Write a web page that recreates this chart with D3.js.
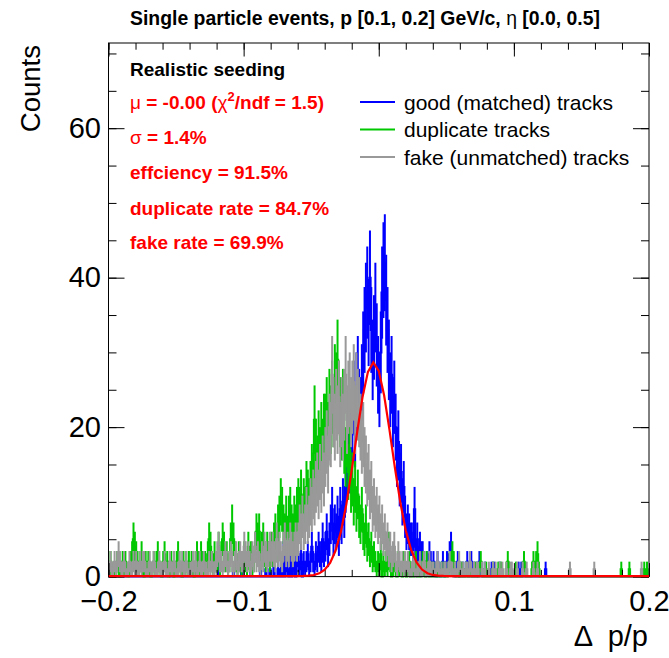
<!DOCTYPE html>
<html>
<head>
<meta charset="utf-8">
<script src="https://cdn.jsdelivr.net/npm/d3@7"></script>
<style>
  body { margin: 0; background: #fff; }
  svg { display: block; font-family: "Liberation Sans", Arial, Helvetica, sans-serif; }
</style>
</head>
<body>
<div id="chart"></div>
<script>
const width = 669, height = 658

// histogram binning
const xMin = -0.2, xMax = 0.2, nBins = 400
const yMax = 71.4

const xTicks = [-0.2, -0.1, 0, 0.1, 0.2]
const xTickLabels = ["\u22120.2", "\u22120.1", "0", "0.1", "0.2"]
const yTicks = [0, 20, 40, 60]
const yTickLabels = ["0", "20", "40", "60"]

// gaussian fit: amplitude, mean, sigma
const fitParams = [28.6, -0.0039, 0.0136]

// counts per bin, 20 bins per row
const goodCounts = [
  0,0,0,0,0,0,0,0,0,0,0,0,0,0,0,0,0,0,0,0,
  0,0,0,0,0,0,0,0,0,0,0,0,0,0,0,0,0,0,0,0,
  0,0,0,0,1,0,0,0,0,0,0,0,0,0,0,0,0,0,0,0,
  0,0,0,0,0,0,0,0,0,0,0,0,0,0,0,0,0,0,0,0,
  0,1,0,0,0,0,0,0,0,0,0,0,1,0,0,0,0,0,1,0,
  0,0,0,0,0,1,0,0,0,0,0,0,2,0,0,0,1,0,0,1,
  0,0,2,0,0,1,0,1,0,3,0,2,1,0,2,0,1,2,0,3,
  2,1,3,0,2,1,2,3,1,2,4,2,1,3,2,4,3,2,5,3,
  4,6,3,5,7,9,5,7,6,8,5,9,7,10,8,12,14,17,15,19,
  21,24,19,25,27,23,22,26,30,33,36,38,34,40,33,29,32,36,31,27,
  25,30,38,41,42,37,33,29,25,27,22,24,20,16,18,13,14,10,12,8,
  6,7,6,5,5,4,9,3,5,2,4,3,3,2,1,2,1,3,2,1,
  2,1,0,2,1,0,1,2,0,1,2,1,3,4,2,1,0,1,2,0,
  1,0,1,0,1,2,0,1,2,0,1,0,1,0,2,1,0,0,1,0,
  0,0,0,1,0,1,0,0,0,1,0,0,0,0,0,0,0,0,0,0,
  0,0,0,1,0,1,0,0,0,0,0,0,0,0,0,0,0,0,0,0,
  0,0,0,1,0,0,0,0,0,0,0,0,0,0,0,0,0,0,0,0,
  0,0,0,0,0,0,0,0,0,0,0,0,0,0,0,0,0,0,0,0,
  0,0,0,0,0,0,0,0,0,0,0,0,0,0,0,0,0,0,0,0,
  0,0,0,0,0,0,0,0,0,0,0,0,0,0,0,0,0,0,0,0
]

const duplicateCounts = [
  1,2,0,1,0,1,2,1,0,1,2,1,2,1,0,1,2,3,5,4,
  3,2,1,2,3,1,0,2,1,2,1,0,1,2,1,2,3,2,1,0,
  2,3,1,2,0,1,2,1,0,1,2,3,2,1,0,2,1,2,1,2,
  1,2,1,0,2,3,2,1,3,2,1,2,1,3,5,4,2,1,3,2,
  2,4,1,3,5,4,2,3,1,2,5,7,5,3,2,1,3,2,1,2,
  3,2,1,4,2,3,1,2,4,6,5,6,3,4,5,3,2,4,3,2,
  4,3,5,6,4,7,8,10,9,7,6,8,5,8,9,7,6,8,7,9,
  10,9,11,8,10,9,12,11,10,12,14,13,21,17,15,18,16,19,17,20,
  20,22,19,23,21,24,22,26,25,29,24,22,20,23,18,16,19,14,17,12,
  13,10,12,9,11,8,7,9,6,5,7,4,5,3,4,2,3,2,1,2,
  1,3,0,2,1,2,1,4,2,0,1,2,1,0,2,1,1,0,2,1,
  0,1,2,0,1,0,1,2,0,1,0,1,2,1,0,2,1,0,1,0,
  1,0,0,1,0,0,1,0,1,0,0,1,2,2,3,2,1,0,0,1,
  0,1,0,0,1,0,0,1,0,0,0,1,0,0,1,2,1,0,0,1,
  0,0,0,0,1,0,0,0,1,0,1,0,0,0,1,2,1,0,0,0,
  0,1,0,0,0,0,1,2,1,0,0,0,0,1,2,1,2,3,1,0,
  0,0,0,0,0,0,0,0,0,0,0,0,0,0,0,0,0,0,0,0,
  0,0,0,0,0,0,0,0,0,0,0,0,0,0,0,0,0,0,0,0,
  0,0,0,0,0,0,0,0,0,0,0,0,0,0,0,0,0,0,0,1,
  0,0,0,0,0,1,0,0,0,0,0,0,0,0,0,0,1,0,1,0
]

const fakeCounts = [
  1,2,1,1,2,1,2,3,2,1,1,2,1,0,1,2,1,1,2,1,
  2,1,1,2,1,2,2,1,0,1,2,1,1,2,1,0,1,2,1,1,
  1,2,1,0,1,2,1,1,2,1,0,1,2,1,2,1,1,2,1,0,
  1,1,2,1,2,0,1,2,1,1,2,1,1,0,2,1,2,1,1,2,
  3,4,2,2,1,2,3,2,1,2,3,2,1,2,3,1,2,3,2,2,
  4,3,2,3,2,1,3,2,4,2,3,2,1,3,2,4,3,2,3,4,
  3,4,3,2,5,3,4,3,2,4,5,3,4,3,5,4,3,4,5,4,
  5,7,6,8,6,7,9,7,8,10,9,11,10,12,13,11,14,12,15,13,
  16,18,15,20,19,27,22,20,23,21,24,19,22,20,23,27,21,24,25,22,
  24,26,21,25,23,22,20,18,19,16,15,13,14,11,12,9,10,8,9,7,
  8,6,7,5,6,4,5,3,4,2,3,4,2,1,3,2,1,2,1,2,
  1,2,1,0,1,2,1,0,1,1,2,0,1,2,1,0,1,2,0,1,
  1,0,1,2,1,0,1,0,1,1,0,1,2,1,1,0,1,0,1,2,
  1,0,1,0,1,1,0,2,1,0,1,0,1,1,0,0,1,0,1,0,
  0,1,0,0,1,0,1,0,0,1,0,1,0,0,1,0,0,1,1,0,
  0,0,1,0,0,0,1,0,0,1,0,0,0,0,1,0,0,1,0,0,
  0,0,0,0,0,0,0,0,0,0,0,0,0,0,0,0,0,0,0,0,
  0,1,0,0,0,0,0,0,0,0,0,0,0,0,0,0,0,0,0,1,
  0,0,0,0,0,0,0,0,0,0,0,0,0,0,0,0,0,0,0,0,
  0,0,0,0,0,0,0,0,0,0,0,0,0,0,1,0,0,0,0,0
]

const seriesNames = ["good (matched) tracks", "duplicate tracks", "fake (unmatched) tracks"]
const seriesColors = ["#0000ff", "#00c800", "#999999"]

const frame = { left: 108.5, right: 649, top: 43, bottom: 576.6 }

const svg = d3.select("#chart").append("svg")
    .attr("width", width)
    .attr("height", height)
    .attr("viewBox", [0, 0, width, height])

const x = d3.scaleLinear().domain([xMin, xMax]).range([frame.left, frame.right])
const y = d3.scaleLinear().domain([0, yMax]).range([frame.bottom, frame.top])
const binWidth = (xMax - xMin) / nBins

// clip a little below the frame so lines at zero keep their full width
svg.append("clipPath").attr("id", "clip")
  .append("rect")
    .attr("x", frame.left).attr("y", frame.top)
    .attr("width", frame.right - frame.left).attr("height", frame.bottom - frame.top + 1.5)

const plot = svg.append("g").attr("clip-path", "url(#clip)")

const stepLine = d3.line()
    .x(d => x(d[0]))
    .y(d => y(d[1]))
    .curve(d3.curveStepAfter)

function drawHist(counts, color) {
    let pts = counts.map((c, i) => [xMin + i * binWidth, c])
    pts.push([xMax, counts[counts.length - 1]])
    plot.append("path")
        .attr("d", stepLine(pts))
        .attr("fill", "none")
        .attr("stroke", color)
        .attr("stroke-width", 2)
    // error bars
    plot.append("g")
      .selectAll("line")
      .data(counts.map((c, i) => ({c: c, i: i})).filter(d => d.c > 0))
      .join("line")
        .attr("x1", d => x(xMin + (d.i + 0.5) * binWidth))
        .attr("x2", d => x(xMin + (d.i + 0.5) * binWidth))
        .attr("y1", d => y(d.c - Math.sqrt(d.c)))
        .attr("y2", d => y(d.c + Math.sqrt(d.c)))
        .attr("stroke", color)
        .attr("stroke-width", 2)
}

drawHist(goodCounts, seriesColors[0])
drawHist(duplicateCounts, seriesColors[1])
drawHist(fakeCounts, seriesColors[2])

// axes, ticks pointing inwards
const tickFont = 29
function styleAxis(g) {
    g.select(".domain").remove()
    g.selectAll(".tick line").attr("stroke", "#000").attr("stroke-width", 1)
    g.selectAll(".tick text").attr("font-size", tickFont).attr("fill", "#000")
        .attr("font-family", "Liberation Sans, Arial, sans-serif")
}

svg.append("g").attr("transform", `translate(0,${frame.bottom})`)
    .call(d3.axisBottom(x).tickValues(x.ticks(20)).tickSize(-6.7).tickFormat(""))
    .call(styleAxis)
svg.append("g").attr("transform", `translate(0,${frame.bottom})`)
    .call(d3.axisBottom(x).tickValues(xTicks).tickSize(-13.5).tickPadding(13.5)
        .tickFormat((d, i) => xTickLabels[i]))
    .call(styleAxis)
svg.append("g").attr("transform", `translate(0,${frame.top})`)
    .call(d3.axisTop(x).tickValues(x.ticks(20)).tickSize(-6.7).tickFormat(""))
    .call(styleAxis)
svg.append("g").attr("transform", `translate(0,${frame.top})`)
    .call(d3.axisTop(x).tickValues(xTicks).tickSize(-13.5).tickFormat(""))
    .call(styleAxis)

svg.append("g").attr("transform", `translate(${frame.left},0)`)
    .call(d3.axisLeft(y).tickValues(y.ticks(14)).tickSize(-8).tickFormat(""))
    .call(styleAxis)
svg.append("g").attr("transform", `translate(${frame.left},0)`)
    .call(d3.axisLeft(y).tickValues(yTicks).tickSize(-16).tickPadding(7.5)
        .tickFormat((d, i) => yTickLabels[i]))
    .call(styleAxis)
svg.append("g").attr("transform", `translate(${frame.right},0)`)
    .call(d3.axisRight(y).tickValues(y.ticks(14)).tickSize(-8).tickFormat(""))
    .call(styleAxis)
svg.append("g").attr("transform", `translate(${frame.right},0)`)
    .call(d3.axisRight(y).tickValues(yTicks).tickSize(-16).tickFormat(""))
    .call(styleAxis)

svg.append("rect")
    .attr("x", frame.left).attr("y", frame.top)
    .attr("width", frame.right - frame.left).attr("height", frame.bottom - frame.top)
    .attr("fill", "none").attr("stroke", "#000").attr("stroke-width", 1)

// fit curve on top of everything, 100 segments like root
const fitPts = d3.range(0, 101).map(k => {
    const v = xMin + k * (xMax - xMin) / 100
    const z = (v - fitParams[1]) / fitParams[2]
    return [v, fitParams[0] * Math.exp(-0.5 * z * z)]
})
svg.append("g").attr("clip-path", "url(#clip)")
  .append("path")
    .attr("d", d3.line().x(d => x(d[0])).y(d => y(d[1]) - 0.5)(fitPts))
    .attr("fill", "none")
    .attr("stroke", "#ff0000")
    .attr("stroke-width", 2.2)

// axis titles
svg.append("text")
    .attr("transform", "translate(40,45) rotate(-90)")
    .attr("text-anchor", "end")
    .attr("font-size", 27.5)
    .text("Counts")
svg.append("text")
    .attr("x", 648).attr("y", 646)
    .attr("text-anchor", "end")
    .attr("font-size", 29)
    .attr("xml:space", "preserve")
    .text("\u0394  p/p")

// title
const title = svg.append("text")
    .attr("x", 130).attr("y", 25)
    .attr("font-size", 19.4).attr("font-weight", "bold")
title.append("tspan").text("Single particle events, p [0.1, 0.2] GeV/c, ")
title.append("tspan").attr("font-weight", "normal").text("\u03b7")
title.append("tspan").text(" [0.0, 0.5]")

// stats text
svg.append("text")
    .attr("x", 130).attr("y", 76)
    .attr("font-size", 19).attr("font-weight", "bold")
    .text("Realistic seeding")

const statY = [109, 144, 179, 215, 249]
const red = "#ff0000"
const t0 = svg.append("text").attr("x", 130).attr("y", statY[0])
    .attr("font-size", 19).attr("font-weight", "bold").attr("fill", red)
t0.append("tspan").attr("font-weight", "normal").text("\u03bc")
t0.append("tspan").text(" = -0.00 (")
t0.append("tspan").attr("font-weight", "normal").text("\u03c7")
t0.append("tspan").attr("font-size", 13).attr("dy", -8).text("2")
t0.append("tspan").attr("dy", 8).text("/ndf = 1.5)")

const t1 = svg.append("text").attr("x", 130).attr("y", statY[1])
    .attr("font-size", 19).attr("font-weight", "bold").attr("fill", red)
t1.append("tspan").attr("font-weight", "normal").text("\u03c3")
t1.append("tspan").text(" = 1.4%")

const statLines = ["effciency = 91.5%", "duplicate rate = 84.7%", "fake rate = 69.9%"]
statLines.forEach((s, i) => {
    svg.append("text").attr("x", 130).attr("y", statY[i + 2])
        .attr("font-size", 19).attr("font-weight", "bold").attr("fill", red)
        .text(s)
})

// legend
const legendY = [102, 129.5, 157]
seriesNames.forEach((name, i) => {
    svg.append("line")
        .attr("x1", 360).attr("x2", 395)
        .attr("y1", legendY[i]).attr("y2", legendY[i])
        .attr("stroke", seriesColors[i]).attr("stroke-width", 2)
    svg.append("text")
        .attr("x", 404).attr("y", legendY[i] + 7.5)
        .attr("font-size", 21)
        .text(name)
})
</script>
</body>
</html>
